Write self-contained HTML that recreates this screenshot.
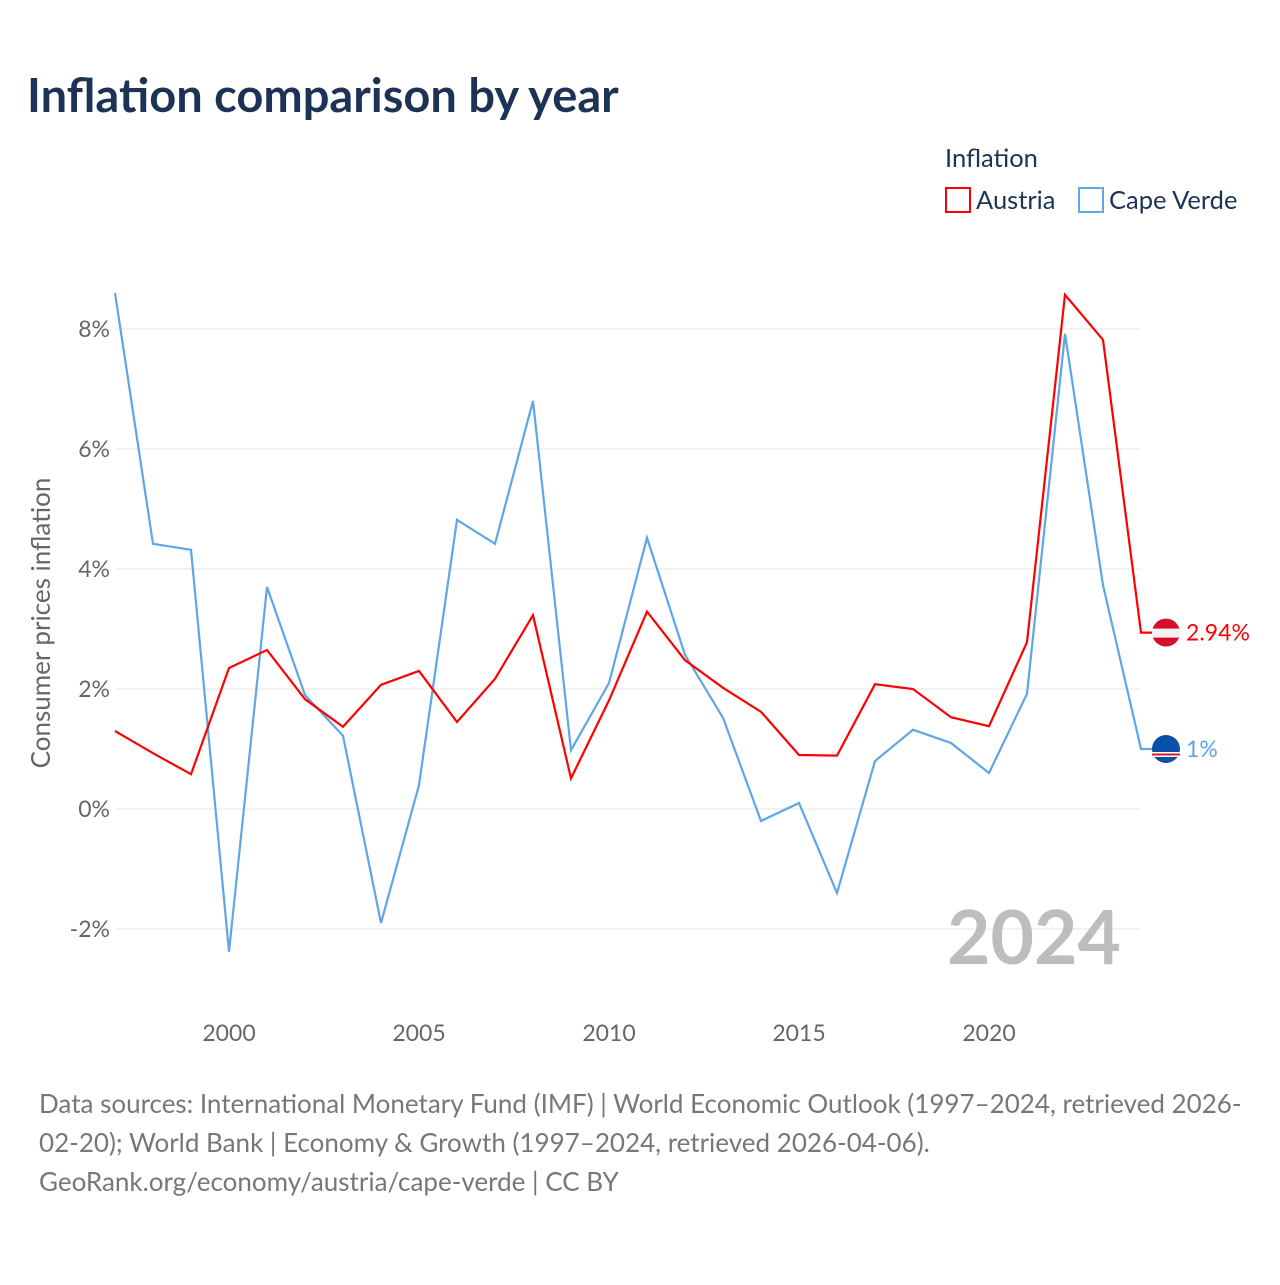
<!DOCTYPE html>
<html><head><meta charset="utf-8"><style>
body{margin:0;background:#fff;font-family:"Liberation Sans",sans-serif;}
svg text{font-family:"Lato","Liberation Sans",sans-serif;}
</style></head><body>
<svg id="chart" width="1280" height="1280" viewBox="0 0 1280 1280">
<text x="27" y="112" font-size="47" font-weight="bold" fill="#1c3355">Inflation comparison by year</text>
<g>
<text x="945" y="167" font-size="25.5" fill="#1c3355">Inflation</text>
<g><rect x="946" y="188" width="24" height="24" fill="none" stroke="#ff0000" stroke-width="2"/><text x="976" y="209" font-size="25.5" fill="#1c3355">Austria</text></g>
<g><rect x="1079" y="188" width="24" height="24" fill="none" stroke="#5ea6e8" stroke-width="2"/><text x="1109" y="209" font-size="25.5" fill="#1c3355">Cape Verde</text></g>
</g>
<g id="grid"></g>
<g id="yticks"></g>
<g id="xticks"></g>
<text transform="translate(50,623) rotate(-90)" text-anchor="middle" font-size="26" fill="#666">Consumer prices inflation</text>
<text x="1121" y="964" text-anchor="end" font-size="75" font-weight="bold" fill="#bdbdbd">2024</text>
<g id="series"></g>
<g font-size="26" fill="#777">
<text x="39" y="1113">Data sources: International Monetary Fund (IMF) | World Economic Outlook (1997–2024, retrieved 2026-</text>
<text x="39" y="1152">02-20); World Bank | Economy &amp; Growth (1997–2024, retrieved 2026-04-06).</text>
<text x="39" y="1191">GeoRank.org/economy/austria/cape-verde | CC BY</text>
</g>
</svg>
<script>
const years=[1997,1998,1999,2000,2001,2002,2003,2004,2005,2006,2007,2008,2009,2010,2011,2012,2013,2014,2015,2016,2017,2018,2019,2020,2021,2022,2023,2024];
const austria=[1.3,0.93,0.58,2.35,2.65,1.83,1.37,2.07,2.3,1.45,2.17,3.23,0.51,1.81,3.29,2.48,2.02,1.62,0.9,0.89,2.08,2.0,1.53,1.38,2.78,8.57,7.82,2.94];
const capeVerde=[8.6,4.42,4.32,-2.38,3.7,1.9,1.22,-1.9,0.4,4.82,4.42,6.8,0.98,2.1,4.52,2.57,1.52,-0.2,0.1,-1.4,0.8,1.32,1.1,0.6,1.92,7.92,3.73,1.0];
const yTicks=[-2,0,2,4,6,8];
const xTicks=[2000,2005,2010,2015,2020];
const NS="http://www.w3.org/2000/svg";
const X=y=>115+(y-1997)*38;
const Y=v=>809-v*60;
function mk(t,a,p){const e=document.createElementNS(NS,t);for(const k in a)e.setAttribute(k,a[k]);p.appendChild(e);return e;}
const grid=document.getElementById('grid'),yt=document.getElementById('yticks'),xt=document.getElementById('xticks'),ser=document.getElementById('series');
yTicks.forEach(v=>{
 const l=mk('line',{x1:115,x2:1141,y1:Y(v),y2:Y(v),stroke:'#e6e6e6','stroke-width':1},grid);
 
 
 const t=mk('text',{x:110,y:Y(v)+8,'text-anchor':'end','font-size':23,fill:'#666'},yt);
 t.textContent=v+'%';
 
 
});
xTicks.forEach(v=>{
 const t=mk('text',{x:X(v),y:1041,'text-anchor':'middle','font-size':23,fill:'#666'},xt);
 t.textContent=v;
 
 
});
function draw(vals,color,flag,name,label){
 let d=vals.map((v,i)=>(i?'L':'M')+X(years[i])+','+Y(v)).join(' ');
 const last=vals[vals.length-1];
 d+=' L1152,'+Y(last);
 const p=mk('path',{d:d,fill:'none',stroke:color,'stroke-width':2.2},ser);
 
 
 const c=mk('circle',{cx:1166,cy:Y(last),r:14,fill:flag},ser);
 
 
 if(name==='austria'){mk('rect',{x:1152,y:Y(last)-4,width:28,height:9,fill:'#f2f2f2'},ser);}
 else{mk('rect',{x:1152,y:Y(last)+3,width:28,height:5,fill:'#fff'},ser);mk('rect',{x:1152,y:Y(last)+4.5,width:28,height:2,fill:'#cf2027'},ser);}
 const t=mk('text',{x:1186,y:Y(last)+8,'font-size':23,fill:color},ser);
 t.textContent=label;
 
 
}
draw(capeVerde,'#5ea6e8','#0a4fa8','cape-verde',capeVerde[capeVerde.length-1]+'%');
draw(austria,'#ff0000','#d4102e','austria',austria[austria.length-1].toFixed(2)+'%');
</script>
</body></html>
